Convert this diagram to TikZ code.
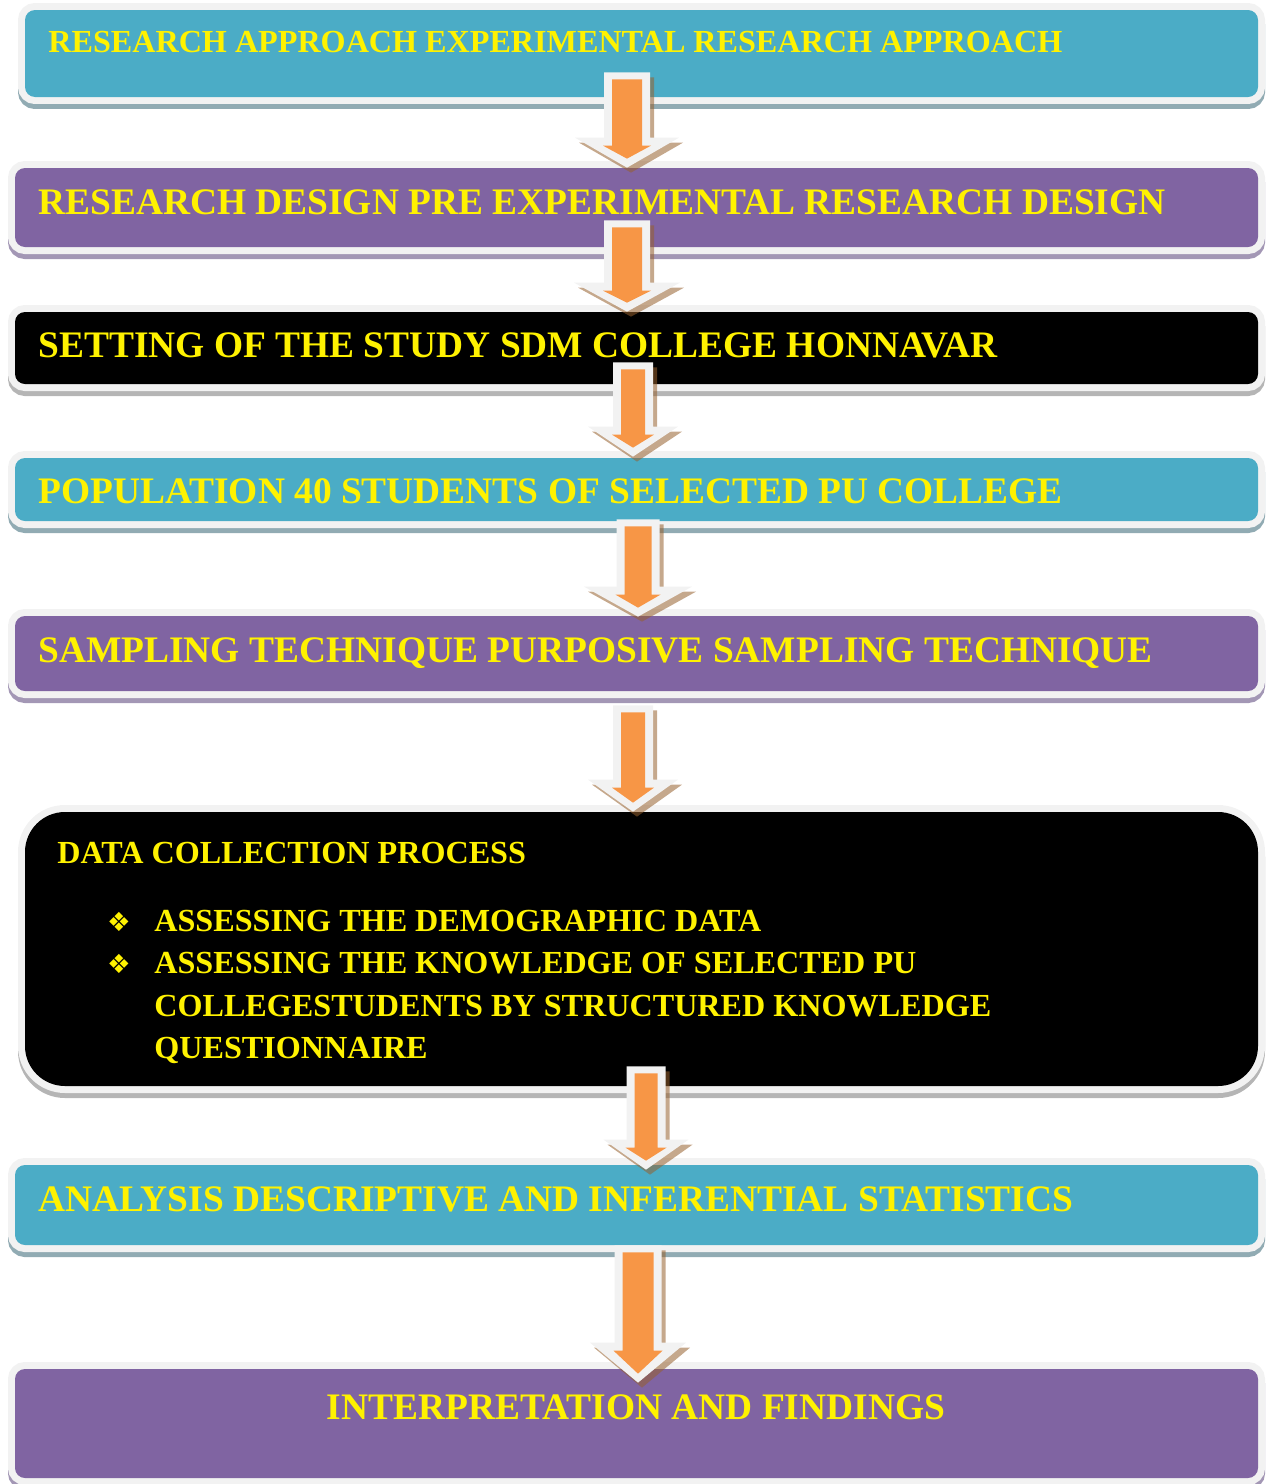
\documentclass[tikz,border=0pt]{standalone}
\usepackage{fontspec}
\setmainfont{Liberation Serif}
\newfontfamily\symbolfont{DejaVu Sans}
\usetikzlibrary{calc,fit}

\definecolor{stageteal}{HTML}{4BACC6}
\definecolor{stagepurple}{HTML}{8064A2}
\definecolor{rim}{HTML}{F2F2F2}
\definecolor{tealshade}{HTML}{91ABB3}
\definecolor{purpleshade}{HTML}{A397B5}
\definecolor{blackshade}{HTML}{B5B5B5}
\definecolor{arroworange}{HTML}{F79646}
\definecolor{arrowshade}{HTML}{96602D}

\tikzstyle{stagebox} = [rectangle, rounded corners=0.2cm, inner sep=0pt, preaction={draw=rim, line width=0.28cm}]
\tikzstyle{tealbox} = [preaction={draw=tealshade, line width=0.28cm, transform canvas={yshift=-0.1cm}}, stagebox, fill=stageteal]
\tikzstyle{purplebox} = [preaction={draw=purpleshade, line width=0.28cm, transform canvas={yshift=-0.1cm}}, stagebox, fill=stagepurple]
\tikzstyle{blackbox} = [preaction={draw=blackshade, line width=0.28cm, transform canvas={yshift=-0.1cm}}, stagebox, fill=black]
\tikzstyle{stagetext} = [text=yellow, font=\bfseries\fontsize{21.3}{25}\selectfont, inner sep=0pt, anchor=base west]
\tikzstyle{smalltext} = [stagetext, font=\bfseries\fontsize{18.3}{24.2}\selectfont]

\newcommand{\listmark}{\llap{{\symbolfont\fontsize{15}{15}\selectfont ❖}\hspace{13.5pt}}}

% block arrow: x, from node, top offset, to node, tip offset, shaft, head, head length
\newcommand{\flowarrow}[8]{%
  \coordinate (top) at ($(#1,0 |- #2.south)+(0,#3)$);
  \coordinate (tip) at ($(#1,0 |- #4.north)+(0,#5)$);
  \fill[arrowshade, fill opacity=0.55, transform canvas={shift={(4,5)}}]
    ($(top)+(-#6,0)$) -- ($(top)+(#6,0)$) -- ($(tip)+(#6,-#8)$) -- ($(tip)+(#7,-#8)$)
    -- (tip) -- ($(tip)+(-#7,-#8)$) -- ($(tip)+(-#6,-#8)$) -- cycle;
  \fill[rim]
    ($(top)+(-#6,0)$) -- ($(top)+(#6,0)$) -- ($(tip)+(#6,-#8)$) -- ($(tip)+(#7,-#8)$)
    -- (tip) -- ($(tip)+(-#7,-#8)$) -- ($(tip)+(-#6,-#8)$) -- cycle;
  \fill[arroworange]
    ($(top)+({-#6+8},7)$) -- ($(top)+({#6-8},7)$) -- ($(tip)+({#6-8},{-#8+8})$)
    -- ($(tip)+({#6+1},{-#8+8})$) -- ($(tip)+(0,-9)$) -- ($(tip)+({-#6-1},{-#8+8})$)
    -- ($(tip)+({-#6+8},{-#8+8})$) -- cycle;
}

\begin{document}
\begin{tikzpicture}[x=0.02cm, y=-0.02cm]
    \useasboundingbox (0,0) rectangle (1265,1484);

    % stages
    \node [tealbox, fit={(25,10) (1258,97)}] (b1) {};
    \node [purplebox, fit={(15,168) (1258,247)}] (b2) {};
    \node [blackbox, fit={(15,312) (1258,384)}] (b3) {};
    \node [tealbox, fit={(15,458) (1258,521)}] (b4) {};
    \node [purplebox, fit={(15,616) (1258,691)}] (b5) {};
    \node [blackbox, rounded corners=0.8cm, fit={(25,812) (1258,1086)}] (b6) {};
    \node [tealbox, fit={(15,1165) (1258,1245)}] (b7) {};
    \node [purplebox, fit={(15,1369) (1258,1478)}] (b8) {};

    % labels
    \node [smalltext] (t1) at (48,52.5) {RESEARCH APPROACH EXPERIMENTAL RESEARCH APPROACH};
    \node [stagetext] (t2) at (38,214) {RESEARCH DESIGN PRE EXPERIMENTAL RESEARCH DESIGN};
    \node [stagetext] (t3) at (38,357) {SETTING OF THE STUDY SDM COLLEGE HONNAVAR};
    \node [stagetext] (t4) at (38,503) {POPULATION 40 STUDENTS OF SELECTED PU COLLEGE};
    \node [stagetext] (t5) at (38,662) {SAMPLING TECHNIQUE PURPOSIVE SAMPLING TECHNIQUE};
    \node [smalltext] (t6) at (57,863) {DATA COLLECTION PROCESS};
    \node [smalltext] (t6list) at (154,931) {\begin{tabular}[t]{@{}l@{}}
        \listmark ASSESSING THE DEMOGRAPHIC DATA\\
        \listmark ASSESSING THE KNOWLEDGE OF SELECTED PU\\
        COLLEGESTUDENTS BY STRUCTURED KNOWLEDGE\\
        QUESTIONNAIRE
      \end{tabular}};
    \node [stagetext] (t7) at (38,1211) {ANALYSIS DESCRIPTIVE AND INFERENTIAL STATISTICS};
    \node [stagetext, anchor=base] (t8) at (636,1419) {INTERPRETATION AND FINDINGS};

    % arrows
    \flowarrow{627}{b1}{-25}{b2}{0}{23}{52}{30}
    \flowarrow{627}{b2}{-27}{b3}{0}{23}{53}{29}
    \flowarrow{633}{b3}{-22}{b4}{-1}{20}{45}{30}
    \flowarrow{638}{b4}{-2}{b5}{1}{21.5}{54}{30}
    \flowarrow{633}{b5}{14}{b6}{0}{20}{45}{32}
    \flowarrow{646}{b6}{-20}{b7}{5}{19.5}{42.5}{30}
    \flowarrow{638}{b7}{0}{b8}{14}{23.5}{48}{40}
\end{tikzpicture}
\end{document}
